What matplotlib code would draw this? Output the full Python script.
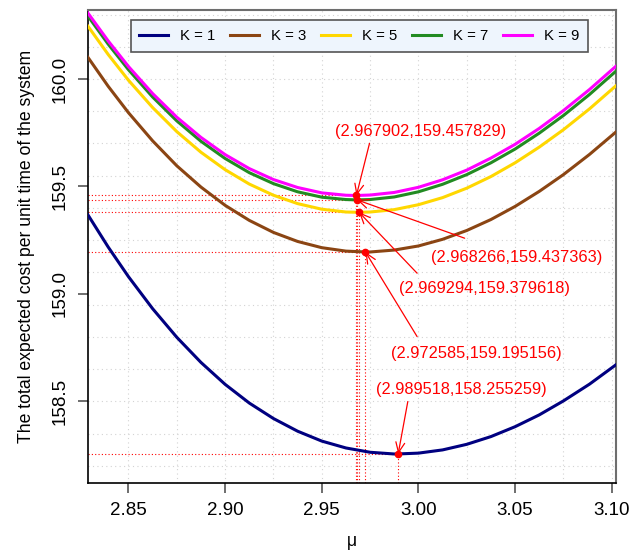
import matplotlib
matplotlib.use('Agg')
import matplotlib.pyplot as plt
import numpy as np

plt.rcParams['font.family'] = ['Liberation Sans', 'DejaVu Sans']

# --- data ---
mu = [2.829, 2.8395, 2.85, 2.8625, 2.875, 2.8875, 2.90, 2.9125, 2.925, 2.9375, 2.95, 2.9625,
      2.975, 2.9875, 3.00, 3.0125, 3.025, 3.0375, 3.05, 3.0625, 3.075, 3.0885, 3.102]
cost_k1 = [159.368, 159.218, 159.080, 158.931, 158.798, 158.681, 158.579, 158.492, 158.420, 158.361, 158.315, 158.283,
           158.263, 158.255, 158.259, 158.274, 158.300, 158.336, 158.382, 158.437, 158.502, 158.580, 158.669]
cost_k3 = [160.101, 159.966, 159.843, 159.712, 159.596, 159.497, 159.412, 159.342, 159.286, 159.244, 159.215, 159.199,
           159.195, 159.204, 159.223, 159.254, 159.295, 159.346, 159.407, 159.477, 159.555, 159.649, 159.752]
cost_k5 = [160.246, 160.114, 159.994, 159.867, 159.755, 159.659, 159.578, 159.511, 159.459, 159.420, 159.394, 159.381,
           159.381, 159.392, 159.415, 159.448, 159.492, 159.546, 159.610, 159.683, 159.764, 159.861, 159.967]
cost_k7 = [160.293, 160.162, 160.043, 159.916, 159.805, 159.710, 159.630, 159.564, 159.513, 159.475, 159.450, 159.439,
           159.439, 159.451, 159.475, 159.510, 159.555, 159.610, 159.674, 159.748, 159.830, 159.928, 160.035]
cost_k9 = [160.307, 160.177, 160.058, 159.932, 159.822, 159.728, 159.648, 159.583, 159.532, 159.495, 159.470, 159.459,
           159.460, 159.472, 159.496, 159.531, 159.576, 159.632, 159.696, 159.770, 159.853, 159.951, 160.058]

k_labels = ['K = 1', 'K = 3', 'K = 5', 'K = 7', 'K = 9']
colors = ['#000080', '#8B4513', '#FFD700', '#228B22', '#FF00FF']

opt_mu = [2.989518, 2.972585, 2.969294, 2.968266, 2.967902]
opt_cost = [158.255259, 159.195156, 159.379618, 159.437363, 159.457829]
opt_text = ['(2.989518,158.255259)', '(2.972585,159.195156)', '(2.969294,159.379618)',
            '(2.968266,159.437363)', '(2.967902,159.457829)']
# label centre and arrow start (data coords), same order as opt_*
text_pos = [(3.0222, 158.5567), (3.0300, 158.7209), (3.0343, 159.0265), (3.0508, 159.1688), (3.0010, 159.7549)]
arrow_start = [(2.9945, 158.4991), (2.9993, 158.8014), (2.9993, 159.0963), (3.0239, 159.2591), (2.9747, 159.7009)]

xlim = (2.8289, 3.1022)
ylim = (158.12, 160.321)

fig = plt.figure(figsize=(6.32, 5.54), dpi=100, facecolor='white')
ax = fig.add_axes([87.7 / 632, 1 - 483 / 554, (616 - 87.7) / 632, (483 - 10) / 554])
ax.set_xlim(*xlim)
ax.set_ylim(*ylim)

# grid
for gx in np.arange(2.85, 3.1001, 0.025):
    ax.axvline(gx, color='#D3D3D3', lw=0.8, ls=(0, (1, 3)), zorder=1)
for gy in np.arange(158.2, 160.3001, 0.15):
    ax.axhline(gy, color='#D3D3D3', lw=0.8, ls=(0, (1, 3)), zorder=1)

# curves
for costs, xm, ym, lab, c in zip([cost_k1, cost_k3, cost_k5, cost_k7, cost_k9], opt_mu, opt_cost, k_labels, colors):
    pts = sorted(zip(mu + [xm], costs + [ym]))
    ax.plot([p[0] for p in pts], [p[1] for p in pts], color=c, lw=2.2, label=lab, zorder=3,
            solid_joinstyle='round')

# optimum markers and dotted guides
for xm, ym in zip(opt_mu, opt_cost):
    ax.plot([xlim[0], xm], [ym, ym], color='red', lw=0.8, ls=(0, (1, 2)), zorder=2)
    ax.plot([xm, xm], [ylim[0], ym], color='red', lw=0.8, ls=(0, (1, 2)), zorder=2)
    ax.plot(xm, ym, 'o', color='red', ms=4.5, zorder=5)

for xm, ym, txt, tp, st in zip(opt_mu, opt_cost, opt_text, text_pos, arrow_start):
    ax.annotate('', xy=(xm, ym), xytext=st,
                arrowprops=dict(arrowstyle='->,head_length=0.45,head_width=0.2', color='red', lw=0.9,
                                shrinkA=0, shrinkB=0, mutation_scale=16), zorder=6)
    ax.text(tp[0], tp[1], txt, color='red', fontsize=11.8, ha='center', va='center', zorder=6)

# axes styling
ax.set_xticks([2.85, 2.90, 2.95, 3.00, 3.05, 3.10])
ax.set_xticklabels(['2.85', '2.90', '2.95', '3.00', '3.05', '3.10'])
ax.set_yticks([158.5, 159.0, 159.5, 160.0])
ax.set_yticklabels(['158.5', '159.0', '159.5', '160.0'])
ax.tick_params(axis='both', direction='out', length=7, width=1.2, color='#555555',
               labelsize=13.5, pad=7)
plt.setp(ax.get_yticklabels(), rotation=90, va='center')
for side in ['left', 'bottom']:
    ax.spines[side].set_color('black')
    ax.spines[side].set_linewidth(1.2)
for side in ['top', 'right']:
    ax.spines[side].set_color('#6E6E6E')
    ax.spines[side].set_linewidth(1.5)

ax.set_xlabel('μ', fontsize=12.7, labelpad=10)
ax.set_ylabel('The total expected cost per unit time of the system', fontsize=12.7, labelpad=12)

leg = ax.legend(loc='upper center', bbox_to_anchor=(359.5 / 632, 1 - 20 / 554), bbox_transform=fig.transFigure,
                ncol=5, fontsize=10.7, handlelength=1.95, handletextpad=0.8, columnspacing=1.0,
                borderpad=0.6, borderaxespad=0, fancybox=False, framealpha=1)
leg.get_frame().set_facecolor('#EEF5FD')
leg.get_frame().set_edgecolor('#555555')
leg.get_frame().set_linewidth(1.2)
for line in leg.get_lines():
    line.set_linewidth(2.2)

plt.savefig('out.png', dpi=100)
